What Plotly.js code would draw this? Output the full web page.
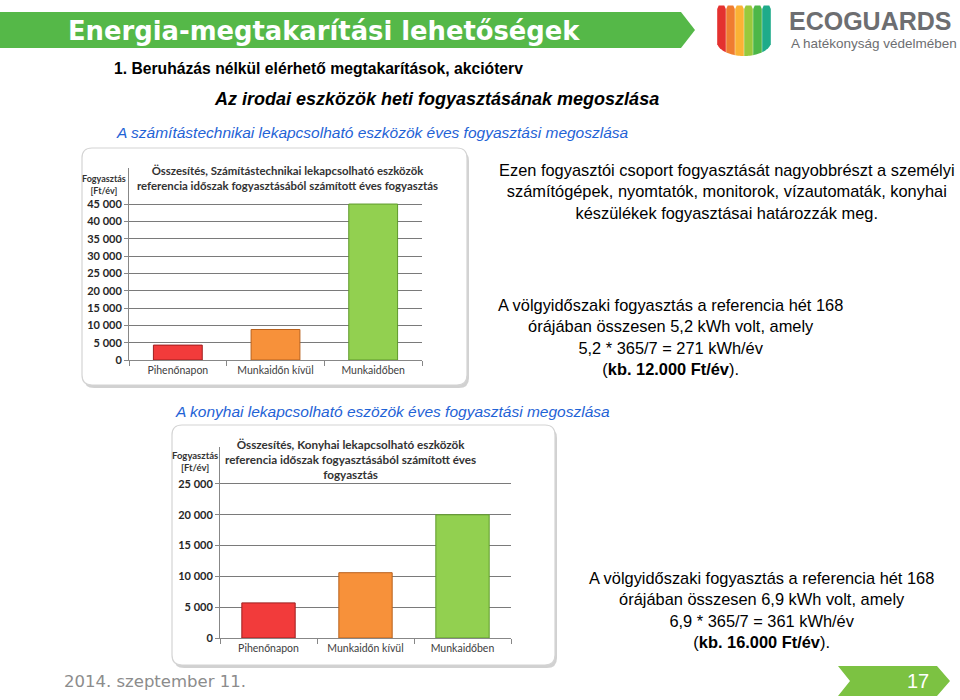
<!DOCTYPE html>
<html>
<head>
<meta charset="utf-8">
<script src="https://cdn.plot.ly/plotly-3.0.1.min.js"></script>
<style>html,body{margin:0;padding:0;background:#fff;}#chart{width:960px;height:700px;}</style>
</head>
<body>
<div id="chart"></div>
<script>
// ---- data ----
const categories = ["Pihenőnapon", "Munkaidőn kívül", "Munkaidőben"];
const itValues = [4300, 8800, 45000];        // Számítástechnikai eszközök [Ft/év]
const kitchenValues = [5700, 10600, 20000];  // Konyhai eszközök [Ft/év]
const itTicks = [0, 5000, 10000, 15000, 20000, 25000, 30000, 35000, 40000, 45000];
const kitchenTicks = [0, 5000, 10000, 15000, 20000, 25000];
const barColors = ["#f23b3b", "#f7913a", "#92d050"];
const barEdges = ["#9e1f1f", "#b8611d", "#5f9a2b"];

// ---- helpers (pixel -> paper) ----
const W = 960, H = 700;
const X = p => p / W;
const Y = p => 1 - p / H;
function pt(x, y) { return X(x).toFixed(5) + "," + Y(y).toFixed(5); }
function poly(points) { return "M" + points.map(p => pt(p[0], p[1])).join(" L") + " Z"; }
function roundRect(x0, y0, x1, y1, r) {
  return "M" + pt(x0 + r, y0) + " L" + pt(x1 - r, y0) + " Q" + pt(x1, y0) + " " + pt(x1, y0 + r) +
    " L" + pt(x1, y1 - r) + " Q" + pt(x1, y1) + " " + pt(x1 - r, y1) +
    " L" + pt(x0 + r, y1) + " Q" + pt(x0, y1) + " " + pt(x0, y1 - r) +
    " L" + pt(x0, y0 + r) + " Q" + pt(x0, y0) + " " + pt(x0 + r, y0) + " Z";
}

const shapes = [];
// chart frames with shadow
[[82, 148, 467, 385], [172, 425, 555, 665]].forEach(f => {
  shapes.push({type: "path", xref: "paper", yref: "paper", layer: "below",
    path: roundRect(f[0] + 2, f[1] + 3, f[2] + 2, f[3] + 3, 10),
    fillcolor: "rgba(0,0,0,0.18)", line: {width: 0}});
  shapes.push({type: "path", xref: "paper", yref: "paper", layer: "below",
    path: roundRect(f[0], f[1], f[2], f[3], 10),
    fillcolor: "#ffffff", line: {color: "#d4d4d4", width: 1.2}});
});
// title banner
shapes.push({type: "path", xref: "paper", yref: "paper", layer: "below",
  path: poly([[0, 12], [681, 12], [695, 30], [681, 48], [0, 48]]),
  fillcolor: "#55b848", line: {width: 0}});
// page-number banner
shapes.push({type: "path", xref: "paper", yref: "paper", layer: "below",
  path: poly([[838, 666], [937, 666], [950, 681], [937, 696], [838, 696], [850, 681]]),
  fillcolor: "#7cc242", line: {width: 0}});
// logo stripes
const logoColors = ["#e4312f", "#ef7d30", "#fbb234", "#98c93c", "#4db748", "#1fab8a"];
const lx0 = 717, lw = 9, lgap = 0.2, cx = 744, rx = 27.5;
logoColors.forEach((c, i) => {
  const a = lx0 + i * lw + lgap, b = a + lw - 2 * lgap;
  const yb = x => { const t = (x - cx) / rx; return 41 + 15 * Math.sqrt(Math.max(0, 1 - t * t)); };
  const pts = [[a, 9], [a + 1.5, 5.5], [b - 1.5, 5.5], [b, 9]];
  for (let k = 0; k <= 6; k++) { const x = b - (b - a) * k / 6; pts.push([x, yb(x)]); }
  shapes.push({type: "path", xref: "paper", yref: "paper", layer: "below",
    path: poly(pts), fillcolor: c, line: {width: 0}});
});

const ann = [];
function A(text, x, y, opts) {
  ann.push(Object.assign({text: text, x: X(x), y: Y(y), xref: "paper", yref: "paper",
    showarrow: false, xanchor: "left", yanchor: "middle"}, opts));
}
A("Energia-megtakarítási lehetőségek", 66, 31,
  {font: {family: "DejaVu Sans", size: 25.8, weight: 700, color: "#ffffff"}});
A("ECOGUARDS", 787, 21, {font: {family: "Liberation Sans", size: 25, weight: 700, color: "#6d6e71"}});
A("A hatékonyság védelmében", 789, 44, {font: {family: "Liberation Sans", size: 13.5, color: "#6d6e71"}});
A("1. Beruházás nélkül elérhető megtakarítások, akcióterv", 112, 68,
  {font: {family: "Liberation Sans", size: 15.7, weight: 700, color: "#000"}});
A("<i>Az irodai eszközök heti fogyasztásának megoszlása</i>", 212, 99,
  {font: {family: "Liberation Sans", size: 18, weight: 700, color: "#000"}});
A("<i>A számítástechnikai lekapcsolható eszközök éves fogyasztási megoszlása</i>", 114, 133,
  {font: {family: "Liberation Sans", size: 15.5, color: "#1f63d6"}});
A("<i>A konyhai lekapcsolható eszözök éves fogyasztási megoszlása</i>", 173, 412,
  {font: {family: "Liberation Sans", size: 15.5, color: "#1f63d6"}});
A("Ezen fogyasztói csoport fogyasztását nagyobbrészt a személyi<br>számítógépek, nyomtatók, monitorok, vízautomaták, konyhai<br>készülékek fogyasztásai határozzák meg.",
  727, 192, {xanchor: "center", align: "center", font: {family: "Liberation Sans", size: 16.4, color: "#000"}});
A("A völgyidőszaki fogyasztás a referencia hét 168<br>órájában összesen 5,2 kWh volt, amely<br>5,2 * 365/7 = 271 kWh/év<br>(<b>kb. 12.000 Ft/év</b>).",
  670, 337, {xanchor: "center", align: "center", font: {family: "Liberation Sans", size: 16.4, color: "#000"}});
A("A völgyidőszaki fogyasztás a referencia hét 168<br>órájában összesen 6,9 kWh volt, amely<br>6,9 * 365/7 = 361 kWh/év<br>(<b>kb. 16.000 Ft/év</b>).",
  761, 610, {xanchor: "center", align: "center", font: {family: "Liberation Sans", size: 16.4, color: "#000"}});
A("2014. szeptember 11.", 62, 681, {font: {family: "DejaVu Sans", size: 16.5, color: "#8c8c8c"}});
A("17", 918, 681, {xanchor: "center", font: {family: "Liberation Sans", size: 20, color: "#ffffff"}});
// chart titles
A("Összesítés, Számítástechnikai lekapcsolható eszközök<br>referencia időszak fogyasztásából számított éves fogyasztás",
  287, 178, {xanchor: "center", align: "center", font: {family: "Lato", size: 11.4, weight: 700, color: "#333"}});
A("Fogyasztás<br>[Ft/év]", 104, 184, {xanchor: "center", align: "center",
  font: {family: "Lato", size: 9, weight: 700, color: "#333"}});
A("Összesítés, Konyhai lekapcsolható eszközök<br>referencia időszak fogyasztásából számított éves<br>fogyasztás",
  350, 459, {xanchor: "center", align: "center", font: {family: "Lato", size: 11.7, weight: 700, color: "#333"}});
A("Fogyasztás<br>[Ft/év]", 195, 461, {xanchor: "center", align: "center",
  font: {family: "Lato", size: 9.5, weight: 700, color: "#333"}});

const axisLine = "#878787";
function xAx(d, anchor) {
  return {domain: d, anchor: anchor, type: "category", showline: true, linecolor: axisLine, linewidth: 1,
    ticks: "outside", tickson: "boundaries", ticklen: 5, tickcolor: axisLine, showgrid: false,
    tickfont: {family: "Lato", size: 10.5, color: "#404040"}, fixedrange: true};
}
function yAx(d, anchor, range, ticks) {
  return {domain: d, anchor: anchor, range: range, tickvals: ticks, tickformat: ",", showline: true,
    linecolor: axisLine, linewidth: 1, ticks: "outside", ticklen: 4, tickcolor: axisLine,
    showgrid: true, gridcolor: "#7a7a7a", gridwidth: 1, zeroline: false,
    tickfont: {family: "Lato", size: 11, weight: 700, color: "#262626"}, fixedrange: true};
}

const data = [
  {type: "bar", x: categories, y: itValues, xaxis: "x", yaxis: "y", width: 0.5,
   marker: {color: barColors, line: {color: barEdges, width: 1}}, hoverinfo: "none"},
  {type: "bar", x: categories, y: kitchenValues, xaxis: "x2", yaxis: "y2", width: 0.55,
   marker: {color: barColors, line: {color: barEdges, width: 1}}, hoverinfo: "none"}
];

const layout = {
  width: W, height: H, margin: {l: 0, r: 0, t: 0, b: 0, pad: 0},
  paper_bgcolor: "#ffffff", plot_bgcolor: "rgba(0,0,0,0)", showlegend: false,
  separators: ", ",
  xaxis: xAx([X(129), X(422)], "y"),
  yaxis: yAx([Y(360), Y(168)], "x", [0, 55400], itTicks),
  xaxis2: xAx([X(220), X(511)], "y2"),
  yaxis2: yAx([Y(638), Y(447)], "x2", [0, 31000], kitchenTicks),
  shapes: shapes, annotations: ann
};

Plotly.newPlot("chart", data, layout, {displayModeBar: false, staticPlot: true});
</script>
</body>
</html>
